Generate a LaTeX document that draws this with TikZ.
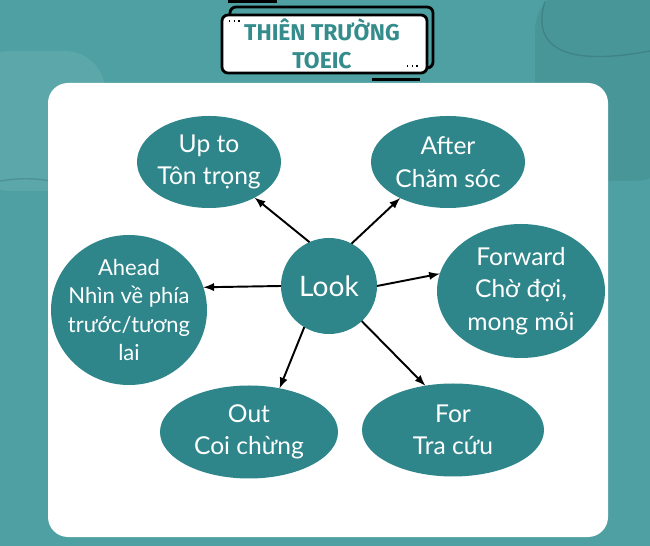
\documentclass[tikz,border=0pt]{standalone}
\usepackage{fontspec}
\setmainfont{Lato}
\newfontfamily\titlefont{Fira Sans}
\usetikzlibrary{positioning, arrows, shapes.geometric}
\definecolor{bgteal}{HTML}{4EA0A3}
\definecolor{bubbleteal}{HTML}{2E868B}
\definecolor{titleteal}{HTML}{358C8C}
\tikzset{
  bubble/.style={
    ellipse, fill=bubbleteal, text=white, align=center,
    inner sep=-3mm, outer sep=0pt,
    font=\fontsize{14}{18.5}\selectfont
  },
  frame/.style={line width=1.6pt, rounded corners=0.12cm},
  node distance=1cm
}

\begin{document}
\begin{tikzpicture}[on grid]
    \useasboundingbox (0,0) rectangle (13,10.92);
    \clip (0,0) rectangle (13,10.92);
    % background
    \fill[bgteal] (0,0) rectangle (13,10.92);
    \fill[white, opacity=.08, rounded corners=0.8cm] (-0.6,7.1) rectangle (2.1,9.9);
    \fill[black, opacity=.06, rounded corners=0.9cm] (10.7,7.3) rectangle (13.6,11.2);
    \draw[black, opacity=.12, thick] (0,7.3) .. controls (1.2,7.5) and (2,7) .. (2.6,6.4);
    \draw[black, opacity=.12, thick] (10.9,10.9) .. controls (10.6,9.9) and (11.4,9.6) .. (13,9.9);
    \fill[white, rounded corners=0.4cm] (0.96,0.18) rectangle (12.16,9.26);

    % title box
    \draw[frame, fill=bgteal] (4.6,9.56) rectangle (8.66,10.78);
    \draw[frame, fill=white] (4.44,9.46) rectangle (8.54,10.62);
    \fill (4.56,10.86) rectangle (5.54,10.92);
    \fill (7.44,9.3) rectangle (8.4,9.36);
    \draw[dotted, line width=0.7pt] (4.58,10.5) -- (4.86,10.5);
    \draw[dotted, line width=0.7pt] (8.14,9.6) -- (8.42,9.6);
    \node[text=titleteal, align=center, font=\titlefont\bfseries\fontsize{13}{16}\selectfont]
      (title) at (6.44,10.04) {THIÊN TRƯỜNG\\TOEIC};

    % nodes
    \node[circle, fill=bubbleteal, text=white, minimum size=1.92cm, inner sep=0pt,
      outer sep=0pt, font=\fontsize{16}{19}\selectfont] (look) at (6.58,5.2) {Look};
    \node[bubble, minimum width=2.88cm, minimum height=1.84cm,
      above left=2.48cm and 2.4cm of look] (upto) {Up to\\Tôn trọng};
    \node[bubble, minimum width=3.08cm, minimum height=1.84cm,
      above right=2.48cm and 2.38cm of look] (after) {After\\Chăm sóc};
    \node[bubble, minimum width=3.36cm, minimum height=2.68cm,
      below right=0.1cm and 3.84cm of look] (forward) {Forward\\Chờ đợi,\\mong mỏi};
    \node[bubble, minimum width=3.12cm, minimum height=3cm,
      font=\fontsize{12.5}{16}\selectfont,
      below left=0.48cm and 4cm of look] (ahead) {Ahead\\Nhìn về phía\\trước/tương\\lai};
    \node[bubble, minimum width=3.56cm, minimum height=1.86cm,
      below left=2.92cm and 1.6cm of look] (out) {Out\\Coi chừng};
    \node[bubble, minimum width=3.64cm, minimum height=1.86cm,
      below right=2.88cm and 2.48cm of look] (lookfor) {For\\Tra cứu};

    \path[-latex, line width=1.1pt]
      (look.114)  edge (upto.-38)
      (look.62)   edge (after.-143)
      (look.0)    edge (forward.168)
      (look.180)  edge (ahead.17.5)
      (look.-121) edge (out.55)
      (look.-47)  edge (lookfor.122);
\end{tikzpicture}
\end{document}
